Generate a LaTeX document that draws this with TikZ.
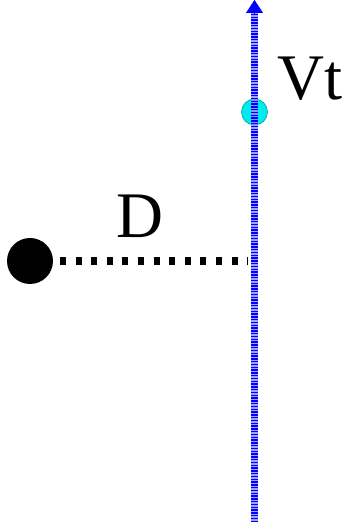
\documentclass[tikz,border=0pt]{standalone}
\usepackage{fontspec}
\setmainfont{Liberation Serif}
\usetikzlibrary{arrows.meta}
\definecolor{cy}{RGB}{0,235,240}
\definecolor{cyedge}{RGB}{0,150,160}
\begin{document}
\begin{tikzpicture}[x=1pt,y=1pt,
  lbl/.style={font=\fontsize{65}{65}\selectfont, inner sep=0pt, anchor=base},
  dotline/.style={line width=8pt, dash pattern=on 6pt off 9.6pt},
  axisbg/.style={line width=7pt, blue!45, opacity=0.8},
  axisfg/.style={line width=7pt, blue, dash pattern=on 1.4pt off 1.4pt}]
\useasboundingbox (0,0) rectangle (343,525);
\coordinate (bot) at (254.5,3);
\coordinate (top) at (254.5,512);
\coordinate (tip) at (254.5,525);
\coordinate (foot) at (248,264);
\node[circle, fill=cy, draw=cyedge, line width=0.6pt, minimum size=26pt, inner sep=0pt] (vt) at (254.5,413) {};
\draw[axisbg] (bot) -- (top);
\draw[axisfg] (bot) -- (top);
\draw[blue, line width=0.1pt, -{Triangle[width=17pt,length=13pt]}] (top) -- (tip);
\node[circle, fill=black, minimum size=46pt, inner sep=0pt] (body) at (30,264) {};
\draw[dotline] (60,264) -- (foot);
\node[lbl] (D) at (140,287) {D};
\node[lbl] (Vt) at (310,425) {Vt};
\end{tikzpicture}
\end{document}
